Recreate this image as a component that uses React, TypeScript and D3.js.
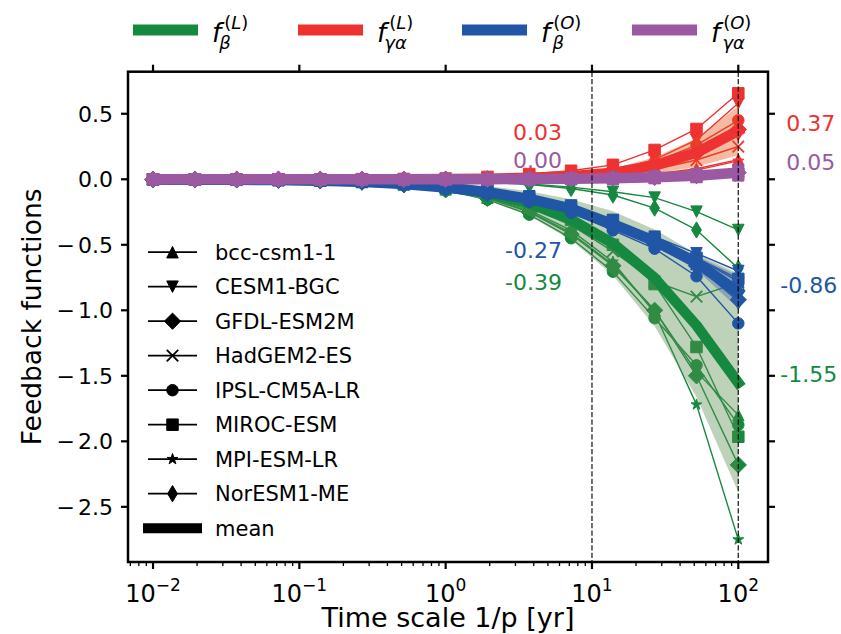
import React from 'react';
import * as d3 from 'd3';

// time scales 1/p [yr] at which every model is sampled
const timeScales = [0.01, 0.0193, 0.0373, 0.072, 0.139, 0.268, 0.518, 1, 1.93, 3.73, 7.2, 13.9, 26.8, 51.8, 100];

const models = ['bcc-csm1-1', 'CESM1-BGC', 'GFDL-ESM2M', 'HadGEM2-ES', 'IPSL-CM5A-LR', 'MIROC-ESM', 'MPI-ESM-LR', 'NorESM1-ME'];
const modelMarkers = ['triangleUp', 'triangleDown', 'diamond', 'x', 'circle', 'square', 'star', 'thinDiamond'];

// f_beta^(L): one row per model
const landBeta = [
  [-0.001, -0.001, -0.003, -0.005, -0.011, -0.021, -0.04, -0.077, -0.14, -0.245, -0.41, -0.65, -1.0, -1.47, -1.8],
  [0, 0, -0.001, -0.001, -0.002, -0.004, -0.007, -0.012, -0.02, -0.035, -0.06, -0.095, -0.14, -0.247, -0.387],
  [-0.001, -0.002, -0.003, -0.006, -0.011, -0.022, -0.042, -0.08, -0.145, -0.25, -0.42, -0.66, -1.0, -1.5, -2.18],
  [-0.001, -0.001, -0.002, -0.005, -0.009, -0.018, -0.034, -0.065, -0.12, -0.21, -0.35, -0.55, -0.78, -0.896, -0.79],
  [-0.001, -0.002, -0.003, -0.006, -0.012, -0.024, -0.045, -0.085, -0.155, -0.27, -0.45, -0.705, -1.06, -1.42, -1.875],
  [0, -0.001, -0.002, -0.004, -0.009, -0.017, -0.032, -0.06, -0.11, -0.19, -0.31, -0.5, -0.8, -1.28, -1.965],
  [-0.001, -0.001, -0.003, -0.005, -0.01, -0.02, -0.039, -0.074, -0.135, -0.235, -0.39, -0.63, -1.02, -1.72, -2.75],
  [0, 0, -0.001, -0.001, -0.002, -0.004, -0.007, -0.012, -0.022, -0.04, -0.07, -0.12, -0.22, -0.387, -0.68],
];

// f_gamma-alpha^(L)
const landGammaAlpha = [
  [0, 0, 0, 0, 0, 0, 0, 0.001, 0.002, 0.003, 0.006, 0.015, 0.04, 0.08, 0.15],
  [0, 0, 0, 0, 0, 0, 0.001, 0.002, 0.005, 0.012, 0.03, 0.07, 0.15, 0.3, 0.58],
  [0, 0, 0, 0, 0, 0, 0.001, 0.001, 0.003, 0.008, 0.02, 0.045, 0.1, 0.2, 0.38],
  [0, 0, 0, 0, 0, 0, 0, 0.001, 0.002, 0.006, 0.015, 0.035, 0.075, 0.147, 0.25],
  [0, 0, 0, 0, 0, 0, 0.001, 0.002, 0.004, 0.01, 0.025, 0.06, 0.13, 0.26, 0.45],
  [0, 0, 0, 0, 0, 0.001, 0.002, 0.005, 0.018, 0.04, 0.065, 0.11, 0.224, 0.384, 0.656],
  [0, 0, 0, 0, 0, 0, 0, 0, 0.001, 0.002, 0.005, 0.015, 0.035, 0.07, 0.14],
  [0, 0, 0, 0, 0, 0, 0, 0.001, 0.003, 0.008, 0.02, 0.045, 0.095, 0.19, 0.36],
];

// f_beta^(O)
const oceanBeta = [
  [-0.002, -0.003, -0.004, -0.006, -0.01, -0.018, -0.034, -0.058, -0.093, -0.14, -0.21, -0.32, -0.44, -0.6, -0.78],
  [-0.001, -0.002, -0.003, -0.005, -0.009, -0.016, -0.031, -0.054, -0.087, -0.13, -0.2, -0.31, -0.438, -0.565, -0.7],
  [-0.002, -0.003, -0.004, -0.007, -0.011, -0.02, -0.038, -0.066, -0.105, -0.158, -0.235, -0.36, -0.49, -0.66, -0.92],
  [-0.002, -0.003, -0.004, -0.006, -0.011, -0.02, -0.037, -0.065, -0.103, -0.155, -0.23, -0.355, -0.485, -0.65, -0.88],
  [-0.002, -0.003, -0.005, -0.008, -0.013, -0.023, -0.042, -0.072, -0.115, -0.172, -0.255, -0.39, -0.53, -0.74, -1.1],
  [-0.002, -0.003, -0.004, -0.006, -0.01, -0.017, -0.033, -0.057, -0.09, -0.136, -0.205, -0.315, -0.45, -0.6, -0.76],
  [-0.002, -0.003, -0.004, -0.006, -0.01, -0.018, -0.035, -0.06, -0.095, -0.143, -0.215, -0.33, -0.46, -0.62, -0.82],
  [-0.002, -0.003, -0.005, -0.007, -0.012, -0.021, -0.039, -0.067, -0.106, -0.16, -0.24, -0.365, -0.48, -0.66, -0.93],
];

// f_gamma-alpha^(O)
const oceanGammaAlpha = [
  [0, 0, 0, 0, 0, 0, 0, 0, 0, 0.001, 0.002, 0.005, 0.009, 0.017, 0.03],
  [0, 0, 0, 0, 0, 0, 0, 0, 0.001, 0.002, 0.005, 0.011, 0.021, 0.038, 0.07],
  [0, 0, 0, 0, 0, 0, 0, 0, 0.001, 0.002, 0.004, 0.008, 0.015, 0.028, 0.05],
  [0, 0, 0, 0, 0, 0, 0, 0, 0.001, 0.002, 0.004, 0.009, 0.018, 0.033, 0.06],
  [0, 0, 0, 0, 0, 0, 0, 0, 0.001, 0.002, 0.006, 0.012, 0.024, 0.044, 0.08],
  [0, 0, 0, 0, 0, 0, 0, 0, 0, 0.001, 0.003, 0.006, 0.012, 0.022, 0.04],
  [0, 0, 0, 0, 0, 0, 0, 0, 0, 0.001, 0.001, 0.003, 0.006, 0.011, 0.02],
  [0, 0, 0, 0, 0, 0, 0, 0, 0.001, 0.002, 0.004, 0.008, 0.015, 0.028, 0.05],
];

const seriesData = [landBeta, landGammaAlpha, oceanBeta, oceanGammaAlpha];
const seriesColors = ['#15893f', '#ee3131', '#2155a5', '#9b59a1'];
const seriesFill = ['#5d8f4f', '#e85016', '#3961af', '#98619d'];
const seriesSub = ['β', 'γα', 'β', 'γα'];
const seriesSup = ['L', 'L', 'O', 'O'];

// annotated values of the mean at 1/p = 10 yr and 100 yr
const labelsAt10 = ['-0.39', '0.03', '-0.27', '0.00'];
const labelsAt10Y = [-0.845, 0.3, -0.6, 0.086];
const labelsAt100 = ['-1.55', '0.37', '-0.86', '0.05'];
const labelsAt100Y = [-1.55, 0.365, -0.865, 0.07];

const yTicks = [0.5, 0, -0.5, -1, -1.5, -2, -2.5];
const vLines = [10, 100];

const W = 841, H = 634;
const plotLeft = 128, plotRight = 768, plotTop = 71.7, plotBottom = 562;
const font = 'DejaVu Sans, sans-serif';
const markerSize = 11.5;

const markerPath = (kind: string, s = markerSize) => {
  const h = s / 2;
  const d = h * Math.SQRT2;
  switch (kind) {
    case 'triangleUp': return `M0,${-h}L${h},${h}L${-h},${h}Z`;
    case 'triangleDown': return `M0,${h}L${h},${-h}L${-h},${-h}Z`;
    case 'diamond': return `M0,${-d}L${d},0L0,${d}L${-d},0Z`;
    case 'thinDiamond': return `M0,${-d}L${d * 0.6},0L0,${d}L${-d * 0.6},0Z`;
    case 'square': return `M${-h},${-h}h${s}v${s}h${-s}Z`;
    case 'x': return `M${-h},${-h}L${h},${h}M${-h},${h}L${h},${-h}`;
    case 'circle': return `M${h},0A${h},${h} 0 1,1 ${-h},0A${h},${h} 0 1,1 ${h},0Z`;
    case 'star': {
      const pts = d3.range(10).map(k => {
        const r = k % 2 ? h * 0.382 : h;
        const a = -Math.PI / 2 + (k * Math.PI) / 5;
        return [r * Math.cos(a), r * Math.sin(a)];
      });
      return 'M' + pts.map(p => p.join(',')).join('L') + 'Z';
    }
  }
  return '';
};

const Marker = ({ kind, cx, cy, color }: { kind: string; cx: number; cy: number; color: string }) => (
  <path
    d={markerPath(kind)}
    transform={`translate(${cx},${cy})`}
    fill={kind === 'x' ? 'none' : color}
    stroke={color}
    strokeWidth={kind === 'x' ? 1.8 : 1}
  />
);

// f with stacked sub- and superscript, in one text element
const MathLabel = ({ x, y, sub, sup }: { x: number; y: number; sub: string; sup: string }) => (
  <text x={x} y={y} fontFamily={font}>
    <tspan fontSize={26} fontStyle="italic">f</tspan>
    <tspan fontSize={18} dx={3} dy={-13}>(</tspan>
    <tspan fontSize={18} fontStyle="italic">{sup}</tspan>
    <tspan fontSize={18}>)</tspan>
    <tspan fontSize={18} fontStyle="italic" dx={-29} dy={20}>{sub}</tspan>
  </text>
);

// tick text with the slightly spaced minus of mathtext
const TickText = ({ v }: { v: number }) => {
  const s = d3.format('.1f')(Math.abs(v));
  return v < 0 ? <>−<tspan dx={3}>{s}</tspan></> : <>{s}</>;
};

export default function App() {
  const x = d3.scaleLog().domain([Math.pow(10, -2.171), Math.pow(10, 2.203)]).range([plotLeft, plotRight]);
  const y = d3.scaleLinear().domain([-2.921, 0.821]).range([plotBottom, plotTop]);

  const line = d3.line<number>()
    .x((_, i) => x(timeScales[i]))
    .y(d => y(d));

  const xTicksAll = x.ticks();
  const isMajor = (v: number) => Math.abs(Math.log10(v) - Math.round(Math.log10(v))) < 1e-6;
  const majors = xTicksAll.filter(isMajor);
  const minors = xTicksAll.filter(v => !isMajor(v));

  const legendTopX = [133, 298, 462, 632];
  const legendRowY = (i: number) => 252.2 + i * 34.5;

  return (
    <svg width={W} height={H} style={{ display: 'block', position: 'absolute', left: 0, top: 0 }}>
      <defs>
        <clipPath id="plotClip">
          <rect x={plotLeft} y={plotTop} width={plotRight - plotLeft} height={plotBottom - plotTop} />
        </clipPath>
      </defs>
      <rect x={0} y={0} width={W} height={H} fill="#fff" />

      <g clipPath="url(#plotClip)">
        {seriesData.map((rows, si) => {
          const color = seriesColors[si];
          const mean = timeScales.map((_, i) => d3.mean(rows, r => r[i]) as number);
          const sd = timeScales.map((_, i) => d3.deviation(rows, r => r[i]) ?? 0);
          const area = d3.area<number>()
            .x((_, i) => x(timeScales[i]))
            .y0((_, i) => y(mean[i] - sd[i]))
            .y1((_, i) => y(mean[i] + sd[i]));
          return (
            <g key={si}>
              {rows.map((row, mi) => (
                <g key={mi}>
                  <path d={line(row) ?? ''} fill="none" stroke={color} strokeWidth={1.4} strokeLinejoin="round" />
                  {row.map((v, i) => (
                    <Marker key={i} kind={modelMarkers[mi]} cx={x(timeScales[i])} cy={y(v)} color={color} />
                  ))}
                </g>
              ))}
              <path d={area(mean) ?? ''} fill={seriesFill[si]} fillOpacity={0.4} stroke="none" />
              <path d={line(mean) ?? ''} fill="none" stroke={color} strokeWidth={10.5} strokeLinecap="square" strokeLinejoin="round" />
            </g>
          );
        })}
        {vLines.map(v => (
          <line key={v} x1={x(v)} x2={x(v)} y1={plotTop} y2={plotBottom} stroke="#000" strokeOpacity={0.8} strokeWidth={1.4} strokeDasharray="5.2,2.2" />
        ))}
      </g>

      {/* value annotations */}
      <g fontFamily={font} fontSize={22}>
        {labelsAt10.map((t, si) => (
          <text key={'a' + si} x={x(10) - 30} y={y(labelsAt10Y[si])} textAnchor="end" fill={seriesColors[si]}>{t}</text>
        ))}
        {labelsAt100.map((t, si) => (
          <text key={'b' + si} x={x(100) + 42 + (t.startsWith('-') ? 0 : 6)} y={y(labelsAt100Y[si])} fill={seriesColors[si]}>{t}</text>
        ))}
      </g>

      {/* frame */}
      <rect x={plotLeft} y={plotTop} width={plotRight - plotLeft} height={plotBottom - plotTop} fill="none" stroke="#000" strokeWidth={2.5} />

      {/* x ticks */}
      {majors.map(v => (
        <g key={'xm' + v}>
          <line x1={x(v)} x2={x(v)} y1={plotBottom} y2={plotBottom + 7} stroke="#000" strokeWidth={2.2} />
          <line x1={x(v)} x2={x(v)} y1={plotTop} y2={plotTop - 7} stroke="#000" strokeWidth={2.2} />
          <text x={x(v)} y={602} textAnchor="middle" fontFamily={font} fontSize={24}>
            10<tspan dy={-11} fontSize={17}>{d3.format('d')(Math.round(Math.log10(v)))}</tspan>
          </text>
        </g>
      ))}
      {minors.map(v => (
        <line key={'xn' + v} x1={x(v)} x2={x(v)} y1={plotBottom} y2={plotBottom + 4} stroke="#000" strokeWidth={1.3} />
      ))}

      {/* y ticks */}
      {yTicks.map(v => (
        <g key={'y' + v}>
          <line x1={plotLeft} x2={plotLeft - 7} y1={y(v)} y2={y(v)} stroke="#000" strokeWidth={2.2} />
          <line x1={plotRight} x2={plotRight + 7} y1={y(v)} y2={y(v)} stroke="#000" strokeWidth={2.2} />
          <text x={plotLeft - 15} y={y(v)} dy="0.36em" textAnchor="end" fontFamily={font} fontSize={22}><TickText v={v} /></text>
        </g>
      ))}

      {/* axis titles */}
      <text x={(plotLeft + plotRight) / 2} y={627} textAnchor="middle" fontFamily={font} fontSize={27}>Time scale 1/p [yr]</text>
      <text transform={`translate(41,${(plotTop + plotBottom) / 2}) rotate(-90)`} textAnchor="middle" fontFamily={font} fontSize={26.5}>Feedback functions</text>

      {/* top legend */}
      {seriesColors.map((c, si) => (
        <g key={'tl' + si}>
          <line x1={legendTopX[si]} x2={legendTopX[si] + 65} y1={30} y2={30} stroke={c} strokeWidth={11} />
          <MathLabel x={legendTopX[si] + 79} y={42} sub={seriesSub[si]} sup={seriesSup[si]} />
        </g>
      ))}

      {/* model legend */}
      <g fontFamily={font} fontSize={21}>
        {models.map((m, mi) => (
          <g key={m}>
            <line x1={148} x2={197} y1={legendRowY(mi)} y2={legendRowY(mi)} stroke="#000" strokeWidth={1.8} />
            <Marker kind={modelMarkers[mi]} cx={172.5} cy={legendRowY(mi)} color="#000" />
            <text x={215} y={legendRowY(mi)} dy="0.36em">{m}</text>
          </g>
        ))}
        <line x1={148} x2={197} y1={legendRowY(8)} y2={legendRowY(8)} stroke="#000" strokeWidth={10} strokeLinecap="square" />
        <text x={215} y={legendRowY(8)} dy="0.36em">mean</text>
      </g>
    </svg>
  );
}
